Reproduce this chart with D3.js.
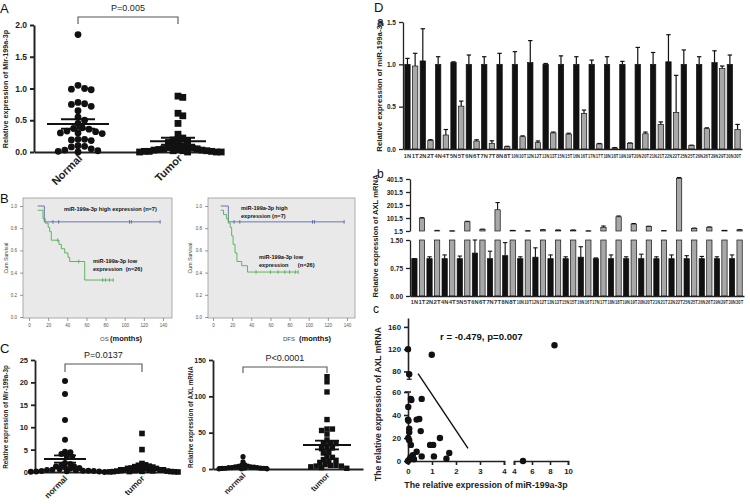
<!DOCTYPE html>
<html><head><meta charset="utf-8">
<script src="https://cdn.jsdelivr.net/npm/d3@7"></script>
<style>
body{margin:0;background:#fff;}
svg{display:block;}
</style></head><body>
<svg id="c" width="750" height="504"></svg>
<script>
// ================= DATA =================
// Panel A
const groupsA = ["Normal", "Tumor"];
const normalA = [1.85,1.05,1.0,0.99,0.98,0.78,0.76,0.75,0.72,0.65,0.55,0.5,0.45,0.38,0.37,0.36,0.33,0.32,0.3,0.3,0.29,0.2,0.2,0.19,0.18,0.1,0.09,0.08,0.05,0.03,0.02,0.01,0.0];
const tumorA = [0.88,0.86,0.61,0.57,0.45,0.28,0.22,0.2,0.19,0.18,0.15,0.12,0.1,0.1,0.08,0.07,0.06,0.05,0.05,0.04,0.04,0.03,0.03,0.02,0.02,0.02,0.01,0.01,0.01,0.0,0.0,0.0,0.0];
const meanA = [0.44, 0.17];
const semA = [0.075, 0.055];
const ticksA = [0, 0.5, 1.0, 1.5, 2.0];
const pTextA = "P=0.005";

// Panel B (Kaplan-Meier)
const kmTicksX = [0,20,40,60,80,100,120,140];
const kmTicksY = [0,0.2,0.4,0.6,0.8,1.0];
const osHighT = [9,16,137];
const osHighS = [1.0,0.857,0.857];
const osHighCens = [25,31,105,107,137];
const osLowT = [9,14.6,17,20,21.6,23.3,31.3,33.8,37.3,40.7,42.5,58.2,88];
const osLowS = [0.962,0.885,0.846,0.808,0.769,0.692,0.654,0.615,0.577,0.538,0.5,0.333,0.333];
const osLowCens = [30,52,77,80,84,88];
const dfsHighT = [8,16,137];
const dfsHighS = [1.0,0.857,0.857];
const dfsHighCens = [22,28,104,106,137];
const dfsLowT = [8,11,14,16,18,19.5,21,23,25,30,36,89];
const dfsLowS = [0.962,0.923,0.885,0.846,0.808,0.731,0.654,0.577,0.5,0.462,0.405,0.405];
const dfsLowCens = [45,60,68,75,80,86,89];

// Panel C
const groupsC = ["normal", "tumor"];
const normalC = [20.3,17.4,11.6,7.2,4.5,4.4,4.0,3.6,3.4,2.0,1.8,1.5,1.3,1.2,1.0,0.9,0.8,0.6,0.5,0.45,0.4,0.3,0.3,0.2,0.2,0.15,0.1,0.1,0.05,0.02];
const tumorC = [8.6,5.0,1.9,1.6,1.5,1.3,1.2,1.1,1.0,0.9,0.8,0.8,0.7,0.6,0.5,0.5,0.4,0.4,0.3,0.3,0.25,0.2,0.2,0.15,0.1,0.1,0.08,0.05,0.03,0.01];
const meanC = [2.9, 0.9];
const semC = [0.8, 0.3];
const ticksC = [0,5,10,15,20,25];
const pTextC = "P=0.0137";
const normalAXL = [17,10,6,5,4,3.5,3,3,2.5,2,2,1.8,1.5,1.2,1,1,0.8,0.5,0.3,0.2];
const tumorAXL = [127,120,106,68,55,55,53,48,40,36,35,35,29,29,28,23,22,17,16,13,12,11,9,6,5,5,4,4,3,2,1];
const meanAXL = [3.0, 33];
const semAXL = [1.0, 6];
const ticksAXL = [0,50,100,150];
const pTextAXL = "P<0.0001";

// Panel D a / b
const sampleIds = [1,2,4,5,6,7,8,10,12,13,15,16,17,18,19,20,21,22,25,26,29,30];
const mirN    = [1.0,1.04,1.0,1.02,1.0,1.0,1.0,1.0,1.02,1.0,1.0,1.0,1.0,1.0,1.0,1.0,1.0,1.03,1.0,1.0,1.02,1.0];
const mirNErr = [0.07,0.38,0.09,0.01,0.11,0.09,0.13,0.15,0.26,0.01,0.1,0.09,0.05,0.09,0.035,0.2,0.14,0.32,0.17,0.09,0.14,0.11];
const mirT    = [0.98,0.10,0.165,0.506,0.094,0.067,0.027,0.145,0.075,0.19,0.176,0.42,0.06,0.012,0.067,0.18,0.29,0.43,0.04,0.24,0.95,0.23];
const mirTErr = [0.15,0.01,0.065,0.06,0.015,0.03,0.005,0.01,0.02,0.01,0.01,0.04,0.005,0.005,0.005,0.02,0.03,0.44,0.005,0.01,0.03,0.06];
const ticksDa = [0,0.5,1.0,1.5];
const axlN    = [1.0,1.0,1.0,1.0,1.15,1.0,1.08,1.0,1.04,1.0,1.0,1.04,1.0,1.0,1.0,1.0,1.0,1.0,1.0,1.0,1.0,1.0];
const axlNErr = [0.0,0.05,0.1,0.07,0.35,0.2,0.35,0.05,0.25,0.1,0.05,0.28,0.02,0.1,0.05,0.12,0.05,0.1,0.08,0.06,0.05,0.1];
const axlT    = [100,3,2,73,14,165,5,3,10,8,8,2,30,111,55,35,4,405,22,30,5,10];
const axlTErr = [4,3,0,3,2,55,1,0,2,1,1,0,10,6,4,3,1,8,2,3,1,2];
const ticksDbLow = [0,0.75,1.5];
const ticksDbUp = [1.5,101.5,201.5,301.5,401.5];

// Panel D c (scatter)
const scMir = [0.0,0.99,0.05,0.12,0.14,0.57,0.01,0.0,0.02,0.36,0.47,0.05,0.05,0.53,0.01,0.05,0.12,1.33,0.92,1.05,0.36,0.2,0.57,1.72,1.08,1.6,0.04,0.1,0.25,0.0];
const scAXL = [120,110,75,54,53,54,47,36,35,36,36.5,28,25,26,20,18,14,20,14,14,8,5,4,7,4,2,1,3,1.5,0];
const scMirFar = [5.0,8.5];
const scAXLFar = [0,127];
const regLine = [{x:0.42,y:76},{x:2.5,y:11}];
const scTickXL = [0,1,2,3,4];
const scTickXR = [4,6,8,10];
const scTickYL = [0,20,40,60];
const scTickYU = [80,120,160];
const corrText = "r = -0.479, p=0.007";

// ================= DRAWING =================
const FONT = '"Liberation Sans", Arial, Helvetica, sans-serif';
const svg = d3.select('#c').attr('font-family', FONT);
svg.append('rect').attr('width',750).attr('height',504).attr('fill','#fff');

function styleAxis(g, fs, weight, color, sw) {
  g.selectAll('path,line').attr('stroke', color).attr('stroke-width', sw);
  g.selectAll('text').attr('font-size', fs).attr('font-weight', weight).attr('fill', color).attr('font-family', FONT);
  return g;
}
function text(x, y, s, o = {}) {
  const t = svg.append('text').attr('x', x).attr('y', y).text(s)
    .attr('font-size', o.fs || 10).attr('font-weight', o.fw || 'normal')
    .attr('fill', o.fill || '#222').attr('text-anchor', o.anchor || 'start');
  if (o.rot) t.attr('transform', `rotate(${o.rot},${x},${y})`);
  return t;
}
function swarm(vals, y, cx, r, minD, step) {
  const pts = vals.map(v => ({ v, y: y(v) })).sort((a, b) => b.v - a.v);
  const placed = [];
  pts.forEach(p => {
    for (let k = 0; k < 400; k++) {
      const off = k === 0 ? 0 : (k % 2 ? 1 : -1) * Math.ceil(k / 2) * step;
      const x = cx + off;
      if (placed.every(q => (q.x - x) ** 2 + (q.y - p.y) ** 2 >= minD * minD)) { p.x = x; break; }
    }
    placed.push(p);
  });
  return placed;
}
function meanSem(g, cx, y, mean, sem, halfW, capW, sw) {
  g.append('line').attr('x1', cx - halfW).attr('x2', cx + halfW).attr('y1', y(mean)).attr('y2', y(mean)).attr('stroke', '#111').attr('stroke-width', sw);
  g.append('line').attr('x1', cx).attr('x2', cx).attr('y1', y(mean - sem)).attr('y2', y(mean + sem)).attr('stroke', '#111').attr('stroke-width', sw);
  [mean - sem, mean + sem].forEach(v => g.append('line').attr('x1', cx - capW).attr('x2', cx + capW).attr('y1', y(v)).attr('y2', y(v)).attr('stroke', '#111').attr('stroke-width', sw));
}
function dotPlot(o) {
  const g = svg.append('g');
  const y = d3.scaleLinear().domain(o.domain).range(o.yRange);
  const xc = d3.scalePoint().domain(o.groups).range(o.catRange);
  const xf = d3.scaleLinear().range(o.axisRange);
  styleAxis(g.append('g').attr('transform', `translate(${o.axisRange[0]},0)`)
    .call(d3.axisLeft(y).tickValues(o.ticks).tickFormat(o.fmt).tickSize(4).tickSizeOuter(0)), o.tickFs, 'bold', '#222', o.sw);
  styleAxis(g.append('g').attr('transform', `translate(0,${o.yRange[0]})`)
    .call(d3.axisBottom(xf).tickValues([]).tickSizeOuter(0)), 8, 'bold', '#222', o.sw);
  const s0 = swarm(o.series[0], y, xc(o.groups[0]), o.r, o.minD[0], o.step[0]);
  g.selectAll(null).data(s0).enter().append('circle').attr('cx', d => d.x).attr('cy', d => d.y).attr('r', o.r).attr('fill', '#111');
  const s1 = swarm(o.series[1], y, xc(o.groups[1]), o.r, o.minD[1], o.step[1]);
  g.selectAll(null).data(s1).enter().append('rect').attr('x', d => d.x - o.sq / 2).attr('y', d => d.y - o.sq / 2).attr('width', o.sq).attr('height', o.sq).attr('fill', '#111');
  o.groups.forEach((gr, i) => meanSem(g, xc(gr), y, o.mean[i], o.sem[i], o.halfW[i], o.capW[i], o.sw));
  o.groups.forEach(gr => {
    const x = xc(gr) + o.labDx, yy = o.yRange[0] + o.labDy;
    g.append('text').attr('x', x).attr('y', yy).attr('transform', `rotate(-45,${x},${yy})`)
      .attr('text-anchor', 'end').attr('font-size', o.labFs).attr('font-weight', 'bold').attr('fill', '#222').text(gr);
  });
  const bx0 = xc(o.groups[0]), bx1 = xc(o.groups[1]);
  g.append('path').attr('d', `M${bx0},${o.brY + o.brH}V${o.brY}H${bx1}V${o.brY + o.brH}`).attr('fill', 'none').attr('stroke', '#555').attr('stroke-width', 1.1);
  g.append('text').attr('x', (bx0 + bx1) / 2 + o.pDx).attr('y', o.brY - 6).attr('text-anchor', 'middle').attr('font-size', o.pFs).attr('fill', '#222').text(o.p);
  const lx = o.ylab[0], ly = o.ylab[1];
  g.append('text').attr('x', lx).attr('y', ly).attr('transform', `rotate(-90,${lx},${ly})`).attr('text-anchor', 'middle')
    .attr('font-size', o.ylabFs).attr('font-weight', 'bold').attr('fill', '#222').text(o.ylabText);
}

// ---- Panel A ----
text(0, 13, 'A', { fs: 13, fill: '#111' });
dotPlot({
  groups: groupsA, series: [normalA, tumorA], domain: [0, 2], yRange: [152, 25], catRange: [78, 178], axisRange: [34, 218],
  ticks: ticksA, fmt: d3.format('.1f'), tickFs: 8.5, sw: 2, r: 3.4, sq: 6.8, minD: [6.2, 4.6], step: [2.2, 2.4],
  mean: meanA, sem: semA, halfW: [31, 28], capW: [17, 17], labDx: 5, labDy: 7, labFs: 11,
  brY: 17, brH: 7, p: pTextA, pFs: 9, pDx: 0, ylab: [8, 89], ylabFs: 7.2, ylabText: 'Relative expression of Mir-199a-3p'
});

// ---- Panel B ----
text(0, 203, 'B', { fs: 13, fill: '#111' });
function kmPlot(o) {
  const g = svg.append('g');
  const x = d3.scaleLinear().domain([0, 140]).range(o.xr);
  const y = d3.scaleLinear().domain([0, 1]).range([317, 206]);
  g.append('rect').attr('x', o.box[0]).attr('y', 198).attr('width', o.box[1] - o.box[0]).attr('height', 120)
    .attr('fill', '#e9e9e9').attr('stroke', '#9a9a9a').attr('stroke-width', 0.8);
  const ax = g.append('g').attr('transform', `translate(${o.box[0]},0)`).call(d3.axisLeft(y).tickValues(kmTicksY).tickFormat(d3.format('.1f')).tickSize(3).tickSizeOuter(0));
  styleAxis(ax, 4.5, 'normal', '#555', 0.6); ax.select('.domain').remove();
  const bx = g.append('g').attr('transform', 'translate(0,318)').call(d3.axisBottom(x).tickValues(kmTicksX).tickSize(3).tickSizeOuter(0));
  styleAxis(bx, 4.5, 'normal', '#555', 0.6); bx.select('.domain').remove();
  const line = d3.line().x(d => x(d[0])).y(d => y(d[1])).curve(d3.curveStepAfter);
  const sAt = (T, S, t) => { let s = S[0]; T.forEach((tt, i) => { if (tt <= t) s = S[i]; }); return s; };
  [[o.hT, o.hS, o.hC, '#5a6aa6'], [o.lT, o.lS, o.lC, '#4fb04f']].forEach(([T, S, C, col]) => {
    g.append('path').attr('d', line(T.map((t, i) => [t, S[i]]))).attr('fill', 'none').attr('stroke', col).attr('stroke-width', 0.9);
    g.selectAll(null).data(C).enter().append('line')
      .attr('x1', d => x(d)).attr('x2', d => x(d)).attr('y1', d => y(sAt(T, S, d)) - 1.8).attr('y2', d => y(sAt(T, S, d)) + 1.8)
      .attr('stroke', col).attr('stroke-width', 0.9);
  });
  o.labels.forEach(l => g.append('text').attr('x', l[0]).attr('y', l[1]).attr('font-size', 5.6).attr('font-weight', 'bold').attr('fill', '#111').attr('xml:space', 'preserve').text(l[2]));
  const yl = o.ylabX;
  g.append('text').attr('x', yl).attr('y', 258).attr('transform', `rotate(-90,${yl},258)`).attr('text-anchor', 'middle').attr('font-size', 5.2).attr('fill', '#333').text('Cum Survival');
  g.append('text').attr('x', o.xlab[0]).attr('y', 341).attr('font-size', 6).attr('fill', '#444').text(o.xlab[1]);
  g.append('text').attr('x', o.xlab[2]).attr('y', 341).attr('font-size', 7.5).attr('font-weight', 'bold').attr('fill', '#111').text('(months)');
}
kmPlot({ xr: [29, 163], box: [23, 172], hT: osHighT, hS: osHighS, hC: osHighCens, lT: osLowT, lS: osLowS, lC: osLowCens,
  labels: [[64, 211, 'miR-199a-3p high expression (n=7)'], [93, 263, 'miR-199a-3p low'], [93, 271, 'expression  (n=26)']],
  ylabX: 8, xlab: [100, 'OS', 110] });
kmPlot({ xr: [213, 347], box: [208, 355], hT: dfsHighT, hS: dfsHighS, hC: dfsHighCens, lT: dfsLowT, lS: dfsLowS, lC: dfsLowCens,
  labels: [[241, 210, 'miR-199a-3p high'], [241, 218, 'expression (n=7)'], [259, 259, 'miR-199a-3p low'], [259, 267, 'expression      (n=26)']],
  ylabX: 192, xlab: [283, 'DFS', 299] });

// ---- Panel C ----
text(0, 353, 'C', { fs: 13, fill: '#111' });
dotPlot({
  groups: groupsC, series: [normalC, tumorC], domain: [0, 25], yRange: [472, 360], catRange: [65, 142], axisRange: [35, 175],
  ticks: ticksC, fmt: d3.format('d'), tickFs: 7.5, sw: 1.8, r: 3, sq: 5.6, minD: [4.2, 3.6], step: [1.8, 1.8],
  mean: meanC, sem: semC, halfW: [21, 24], capW: [11, 11], labDx: 3, labDy: 7, labFs: 8.5,
  brY: 364, brH: 8, p: pTextC, pFs: 9, pDx: 0, ylab: [8, 417], ylabFs: 6.3, ylabText: 'Relative expression of Mir-199a-3p'
});
dotPlot({
  groups: groupsC, series: [normalAXL, tumorAXL], domain: [0, 150], yRange: [469, 360], catRange: [243, 327], axisRange: [213, 363],
  ticks: ticksAXL, fmt: d3.format('d'), tickFs: 7, sw: 1.8, r: 2.6, sq: 5.4, minD: [3.2, 4.6], step: [1.6, 1.8],
  mean: meanAXL, sem: semAXL, halfW: [25, 24], capW: [12, 12], labDx: 3, labDy: 7, labFs: 8,
  brY: 367, brH: 6, p: pTextAXL, pFs: 9, pDx: 0, ylab: [193, 417], ylabFs: 6.3, ylabText: 'Relative expression of AXL mRNA'
});

// ---- Panel D ----
text(374, 12, 'D', { fs: 13, fill: '#111' });
text(377, 26, 'a', { fs: 12, fill: '#111' });
text(377, 178, 'b', { fs: 12, fill: '#111' });
text(373, 313, 'c', { fs: 12, fill: '#111' });
const labelsD = sampleIds.flatMap(id => [id + 'N', id + 'T']);
function barsPanel(o) {
  const g = svg.append('g');
  const x = d3.scaleBand().domain(labelsD).range(o.xr).paddingInner(0.3).paddingOuter(0.1);
  const bw = x.bandwidth();
  const recs = [];
  sampleIds.forEach((id, i) => {
    recs.push({ k: id + 'N', v: o.N[i], e: o.NE[i], fill: '#111' });
    recs.push({ k: id + 'T', v: o.T[i], e: o.TE[i], fill: '#a8a8a8' });
  });
  return { g, x, bw, cap: 2.2, recs };
}
// condensed labels: squeezed horizontally so each fits inside its own band
function barLabels(g, x, bw, y) {
  const maxW = x.step() - 0.4;
  g.selectAll(null).data(labelsD).enter().append('text')
    .attr('text-anchor', 'middle').attr('font-size', 6).attr('font-weight', 'bold').attr('fill', '#333').text(d => d)
    .each(function (d) {
      const w = this.getComputedTextLength();
      const s = Math.min(1, maxW / w);
      d3.select(this).attr('transform', `translate(${x(d) + bw / 2},${y}) scale(${s},1)`);
    });
}
// Da
{
  const { g, x, bw, cap, recs } = barsPanel({ xr: [404, 741], N: mirN, NE: mirNErr, T: mirT, TE: mirTErr });
  const y = d3.scaleLinear().domain([0, 1.5]).range([149, 22]);
  recs.forEach(r => {
    const cx = x(r.k) + bw / 2;
    g.append('line').attr('x1', cx).attr('x2', cx).attr('y1', y(r.v)).attr('y2', y(r.v + r.e)).attr('stroke', '#111').attr('stroke-width', 1.2);
    g.append('line').attr('x1', cx - cap).attr('x2', cx + cap).attr('y1', y(r.v + r.e)).attr('y2', y(r.v + r.e)).attr('stroke', '#111').attr('stroke-width', 1.2);
    g.append('rect').attr('x', x(r.k)).attr('width', bw).attr('y', y(r.v)).attr('height', y(0) - y(r.v)).attr('fill', r.fill).attr('stroke', '#111').attr('stroke-width', 0.7);
  });
  styleAxis(g.append('g').attr('transform', 'translate(403,0)').call(d3.axisLeft(y).tickValues(ticksDa).tickFormat(d3.format('.1f')).tickSize(4).tickSizeOuter(0)), 6.5, 'bold', '#222', 1.3);
  styleAxis(g.append('g').attr('transform', 'translate(0,149)').call(d3.axisBottom(d3.scaleLinear().range([403, 742])).tickValues([]).tickSizeOuter(0)), 7, 'bold', '#222', 1.3);
  barLabels(g, x, bw, 158);
  g.append('text').attr('x', 382).attr('y', 86).attr('transform', 'rotate(-90,382,86)').attr('text-anchor', 'middle')
    .attr('font-size', 7.8).attr('font-weight', 'bold').attr('fill', '#222').text('Relative expression of miR-199a-3p');
}
// Db
{
  const { g, x, bw, cap, recs } = barsPanel({ xr: [411, 743], N: axlN, NE: axlNErr, T: axlT, TE: axlTErr });
  const yL = d3.scaleLinear().domain([0, 1.5]).range([296, 240]);
  const yU = d3.scaleLinear().domain([1.5, 401.5]).range([231, 179]);
  recs.forEach(r => {
    const cx = x(r.k) + bw / 2;
    const lowTop = Math.min(r.v, 1.5);
    const inLow = r.v + r.e <= 1.5;
    const ys = inLow ? yL : yU;
    const base = inLow ? r.v : Math.max(r.v, 1.5);
    g.append('line').attr('x1', cx).attr('x2', cx).attr('y1', ys(base)).attr('y2', ys(r.v + r.e)).attr('stroke', '#111').attr('stroke-width', 1.1);
    g.append('line').attr('x1', cx - cap).attr('x2', cx + cap).attr('y1', ys(r.v + r.e)).attr('y2', ys(r.v + r.e)).attr('stroke', '#111').attr('stroke-width', 1.1);
    g.append('rect').attr('x', x(r.k)).attr('width', bw).attr('y', yL(lowTop)).attr('height', yL(0) - yL(lowTop)).attr('fill', r.fill).attr('stroke', '#111').attr('stroke-width', 0.7);
    if (r.v > 1.5) g.append('rect').attr('x', x(r.k)).attr('width', bw).attr('y', yU(r.v)).attr('height', yU(1.5) - yU(r.v)).attr('fill', r.fill).attr('stroke', '#111').attr('stroke-width', 0.7);
  });
  styleAxis(g.append('g').attr('transform', 'translate(410,0)').call(d3.axisLeft(yL).tickValues(ticksDbLow).tickFormat(d3.format('.2f')).tickSize(4).tickSizeOuter(0)), 6.5, 'bold', '#222', 1.3);
  styleAxis(g.append('g').attr('transform', 'translate(410,0)').call(d3.axisLeft(yU).tickValues(ticksDbUp).tickFormat(d3.format('.1f')).tickSize(4).tickSizeOuter(0)), 6.5, 'bold', '#222', 1.3);
  styleAxis(g.append('g').attr('transform', 'translate(0,296)').call(d3.axisBottom(d3.scaleLinear().range([410, 744])).tickValues([]).tickSizeOuter(0)), 7, 'bold', '#222', 1.3);
  barLabels(g, x, bw, 304);
  g.append('text').attr('x', 378).attr('y', 236).attr('transform', 'rotate(-90,378,236)').attr('text-anchor', 'middle')
    .attr('font-size', 7.6).attr('font-weight', 'bold').attr('fill', '#222').text('Relative expression of AXL mRNA');
}
// Dc
{
  const g = svg.append('g');
  const xL = d3.scaleLinear().domain([0, 4]).range([408, 504]);
  const xR = d3.scaleLinear().domain([4, 10]).range([514, 568]);
  const yL = d3.scaleLinear().domain([0, 60]).range([461, 392]);
  const yU = d3.scaleLinear().domain([70, 176]).range([377, 318]);
  const sw = 1.6, fs = 7.8, fmt = d3.format('d');
  styleAxis(g.append('g').attr('transform', 'translate(408,0)').call(d3.axisLeft(yL).tickValues(scTickYL).tickFormat(fmt).tickSize(4).tickSizeOuter(0)), fs, 'bold', '#222', sw);
  styleAxis(g.append('g').attr('transform', 'translate(408,0)').call(d3.axisLeft(yU).tickValues(scTickYU).tickFormat(fmt).tickSize(4).tickSizeOuter(0)), fs, 'bold', '#222', sw);
  styleAxis(g.append('g').attr('transform', 'translate(0,461)').call(d3.axisBottom(xL).tickValues(scTickXL).tickFormat(fmt).tickSize(4).tickSizeOuter(4)), fs, 'bold', '#222', sw);
  styleAxis(g.append('g').attr('transform', 'translate(0,461)').call(d3.axisBottom(xR).tickValues(scTickXR).tickFormat(fmt).tickSize(4).tickSizeOuter(4)), fs, 'bold', '#222', sw);
  g.append('line').attr('x1', 405).attr('x2', 411).attr('y1', yL(60)).attr('y2', yL(60)).attr('stroke', '#222').attr('stroke-width', sw);
  g.append('line').attr('x1', xL(regLine[0].x)).attr('y1', yL(regLine[0].y)).attr('x2', xL(regLine[1].x)).attr('y2', yL(regLine[1].y)).attr('stroke', '#111').attr('stroke-width', 1.4);
  const pts = scMir.map((m, i) => ({ m, a: scAXL[i] }));
  g.selectAll(null).data(pts).enter().append('circle').attr('cx', d => xL(d.m)).attr('cy', d => d.a > 65 ? yU(d.a) : yL(d.a)).attr('r', 3.2).attr('fill', '#111');
  const far = scMirFar.map((m, i) => ({ m, a: scAXLFar[i] }));
  g.selectAll(null).data(far).enter().append('circle').attr('cx', d => xR(d.m)).attr('cy', d => d.a > 65 ? yU(d.a) : yL(d.a)).attr('r', 3.2).attr('fill', '#111');
  g.append('line').attr('x1', xL(0.05)).attr('x2', xL(0.05)).attr('y1', yU(75)).attr('y2', yU(66)).attr('stroke', '#111').attr('stroke-width', 1.2);
  g.append('line').attr('x1', xL(0.05) - 2.5).attr('x2', xL(0.05) + 2.5).attr('y1', yU(66)).attr('y2', yU(66)).attr('stroke', '#111').attr('stroke-width', 1.2);
  g.append('text').attr('x', 440).attr('y', 340).attr('font-size', 9.6).attr('font-weight', 'bold').attr('fill', '#111').text(corrText);
  g.append('text').attr('x', 486).attr('y', 488).attr('text-anchor', 'middle').attr('font-size', 8.8).attr('font-weight', 'bold').attr('fill', '#222').text('The relative expression of miR-199a-3p');
  g.append('text').attr('x', 381).attr('y', 404).attr('transform', 'rotate(-90,381,404)').attr('text-anchor', 'middle').attr('font-size', 8.6).attr('font-weight', 'bold').attr('fill', '#222').text('The relative expression of AXL mRNA');
}
</script>
</body></html>
